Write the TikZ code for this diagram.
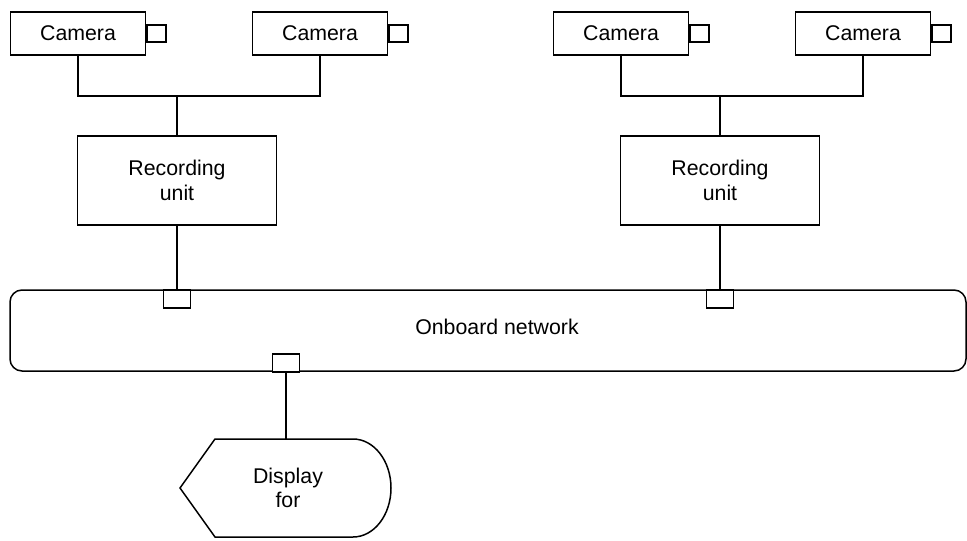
\documentclass[tikz,border=0pt]{standalone}
\usepackage{fontspec}
\setmainfont{Liberation Sans}
\begin{document}
\begin{tikzpicture}[x=1pt,y=-1pt,line width=1.5pt,
  every node/.style={font=\fontsize{21.3}{24.5}\selectfont},
  cambox/.style={draw,rectangle,minimum width=135pt,minimum height=43pt,inner sep=0pt},
  lens/.style={draw,rectangle,minimum width=19pt,minimum height=17pt,inner sep=0pt,anchor=west},
  recbox/.style={draw,rectangle,minimum width=199pt,minimum height=89pt,inner sep=0pt,align=center},
  port/.style={draw,fill=white,rectangle,minimum width=27pt,minimum height=18pt,inner sep=0pt},
  wire/.style={line width=1.5pt}]
\useasboundingbox (0,0) rectangle (967,541);

% cameras with their lenses
\node[cambox] (cam1) at (78,33.5) {Camera};
\node[cambox] (cam2) at (320,33.5) {Camera};
\node[cambox] (cam3) at (621,33.5) {Camera};
\node[cambox] (cam4) at (863,33.5) {Camera};
\foreach \c in {1,2,3,4} \node[lens] (lens\c) at (cam\c.east) {};

% recording units
\node[recbox] (rec1) at (177,180.5) {Recording\\unit};
\node[recbox] (rec2) at (720,180.5) {Recording\\unit};

% onboard network bus
\node[draw,rectangle,rounded corners=12pt,minimum width=956pt,minimum height=81pt,inner sep=0pt] (net) at (488,330.5) {};
\node[anchor=base] (netlabel) at (497,334) {Onboard network};

% camera wiring
\coordinate (j1) at (177,96);
\coordinate (j2) at (720,96);
\draw[wire] (cam1.south) |- (j1) -| (cam2.south);
\draw[wire] (j1) -- (rec1.north);
\draw[wire] (cam3.south) |- (j2) -| (cam4.south);
\draw[wire] (j2) -- (rec2.north);

% network ports
\node[port] (p1) at (177,299) {};
\node[port] (p2) at (720,299) {};
\node[port] (p3) at (286,363) {};
\draw[wire] (rec1.south) -- (p1.north);
\draw[wire] (rec2.south) -- (p2.north);

% display terminal
\draw (215,439) -- (353,439) arc[start angle=90,end angle=-90,x radius=38,y radius=-49]
  -- (215,537) -- (180,488) -- cycle;
\coordinate (disptop) at (286,439);
\node[align=center] (disp) at (288,488) {Display\\for};
\draw[wire] (p3.south) -- (disptop);
\end{tikzpicture}
\end{document}
